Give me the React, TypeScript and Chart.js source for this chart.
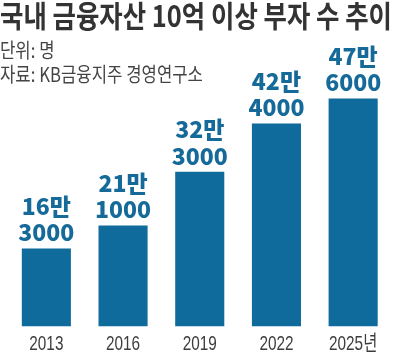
import React, { useEffect, useLayoutEffect, useRef } from "react";
import { Chart, registerables } from "chart.js";

Chart.register(...registerables);

const years = ["2013", "2016", "2019", "2022", "2025년"];
const richCounts = [163000, 211000, 323000, 424000, 476000];
const TITLE = "국내 금융자산 10억 이상 부자 수 추이";
const UNIT = "단위: 명";
const SOURCE = "자료: KB금융지주 경영연구소";

const BAR_COLOR = "#0f6b9c";
const LABEL_COLOR = "#166a99";
const TICK_COLOR = "#3d3d3d";

const labelPlugin = {
  id: "twoLineLabels",
  afterDatasetsDraw(chart: any) {
    const ctx = chart.ctx;
    const meta = chart.getDatasetMeta(0);
    ctx.save();
    ctx.fillStyle = LABEL_COLOR;
    ctx.font = "900 23px 'Noto Sans CJK KR'";
    ctx.textAlign = "center";
    ctx.textBaseline = "alphabetic";
    meta.data.forEach((bar: any, i: number) => {
      const v = richCounts[i];
      const man = Math.floor(v / 10000) + "만";
      const rest = String(v % 10000);
      ctx.fillText(rest, bar.x, bar.y - 7);
      ctx.fillText(man, bar.x, bar.y - 7 - 26.7);
    });
    ctx.restore();
  },
};

// draws the x-axis category labels, horizontally condensed like the original
const xLabelPlugin = {
  id: "condensedXLabels",
  afterDraw(chart: any) {
    const ctx = chart.ctx;
    const xs = chart.scales.x;
    const k = 0.73;
    ctx.save();
    ctx.fillStyle = TICK_COLOR;
    ctx.font = "21px 'Liberation Sans', 'Noto Sans CJK KR'";
    ctx.textAlign = "center";
    ctx.textBaseline = "alphabetic";
    const y = chart.chartArea.bottom + 23.5;
    xs.ticks.forEach((_t: any, i: number) => {
      const x = xs.getPixelForTick(i);
      ctx.save();
      ctx.translate(x, y);
      ctx.scale(k, 1);
      ctx.fillText(String(chart.data.labels[i]), 0, 0);
      ctx.restore();
    });
    ctx.restore();
  },
};

export default function App() {
  const canvasRef = useRef<HTMLCanvasElement | null>(null);
  const titleRef = useRef<HTMLSpanElement | null>(null);
  const srcRef = useRef<HTMLDivElement | null>(null);
  const unitRef = useRef<HTMLDivElement | null>(null);

  useLayoutEffect(() => {
    const t = titleRef.current;
    if (t) {
      const w = t.getBoundingClientRect().width;
      t.style.transform = `scaleX(${392 / w})`;
    }
    const s = srcRef.current;
    const u = unitRef.current;
    if (s && u) {
      const w = s.getBoundingClientRect().width;
      const k = 203 / w;
      s.style.transform = `scaleX(${k})`;
      u.style.transform = `scaleX(${k})`;
    }
  }, []);

  useEffect(() => {
    if (!canvasRef.current) return;
    const chart = new Chart(canvasRef.current, {
      type: "bar",
      data: {
        labels: years,
        datasets: [
          {
            data: richCounts,
            backgroundColor: BAR_COLOR,
            borderWidth: 0,
            barPercentage: 0.64,
            categoryPercentage: 1,
          },
        ],
      },
      options: {
        animation: false,
        responsive: false,
        devicePixelRatio: 1,
        layout: { padding: { top: 87, left: 8, right: 8.5, bottom: 0 } },
        plugins: {
          legend: { display: false },
          tooltip: { enabled: false },
          title: { display: false },
        },
        scales: {
          x: {
            grid: { display: false, drawTicks: false },
            border: { display: false },
            ticks: { display: false },
            afterFit: (scale: any) => {
              scale.height = 25.5;
            },
          },
          y: { display: false, min: 0, max: 500000 },
        },
      },
      plugins: [labelPlugin, xLabelPlugin],
    });
    return () => chart.destroy();
  }, []);

  const textBase: React.CSSProperties = {
    position: "absolute",
    left: 0,
    whiteSpace: "nowrap",
    transformOrigin: "left top",
    fontFamily: "'Noto Sans CJK KR', sans-serif",
  };

  return (
    <div style={{ position: "absolute", left: 0, top: 0, width: 400, height: 352, background: "#fff", overflow: "hidden" }}>
      <canvas ref={canvasRef} width={400} height={352} style={{ position: "absolute", left: 0, top: 0, width: 400, height: 352 }} />
      <span
        ref={titleRef}
        style={{ ...textBase, top: -1.5, fontSize: 30, lineHeight: "30px", fontWeight: 700, color: "#333" }}
      >
        {TITLE}
      </span>
      <div ref={unitRef} style={{ ...textBase, top: 39.7, fontSize: 20, lineHeight: "20px", color: "#444" }}>
        {UNIT}
      </div>
      <div ref={srcRef} style={{ ...textBase, top: 64.4, fontSize: 20, lineHeight: "20px", color: "#444" }}>
        {SOURCE}
      </div>
    </div>
  );
}
